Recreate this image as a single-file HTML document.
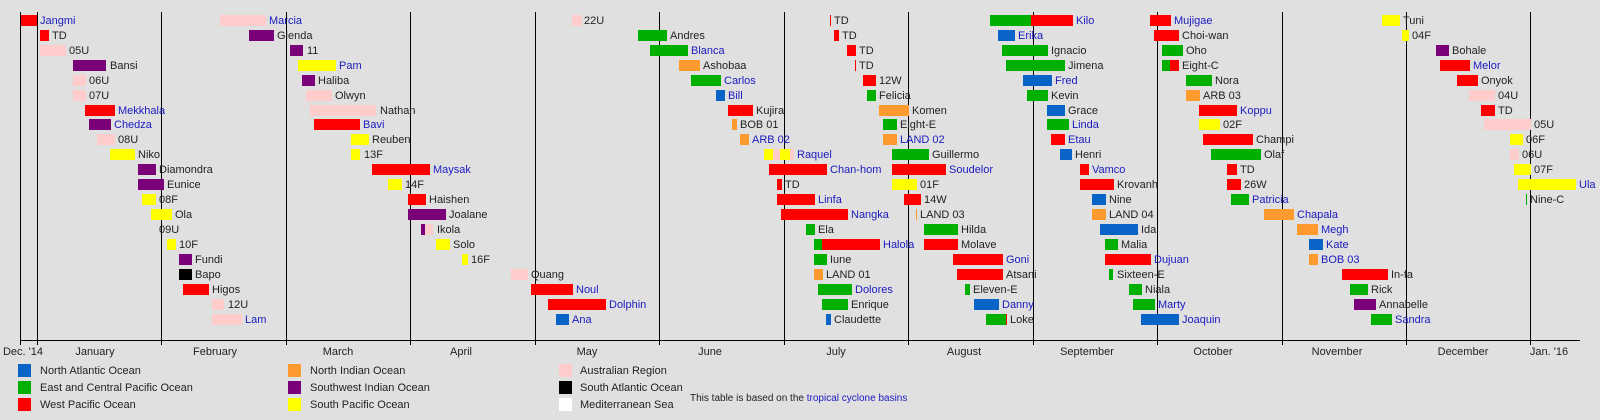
<!DOCTYPE html>
<html><head><meta charset="utf-8"><style>
body{margin:0;width:1600px;height:420px;background:#e0e0e0;position:relative;overflow:hidden;font-family:"Liberation Sans",Arial,sans-serif;font-size:11px;color:#222}
.v{position:absolute;top:12px;height:333px;width:1px;background:#000}
.ax{position:absolute;left:20px;top:340px;width:1560px;height:1px;background:#000}
.r{position:absolute;left:0;width:1600px;height:14px}
.r i{position:absolute;top:1px;height:11px;display:block}
.r b{position:absolute;top:0;font-weight:normal;line-height:14px;white-space:nowrap;color:#222}
.r b.u,.u{color:#1a1ac0}
.R{background:#ff0000}.G{background:#00b000}.B{background:#0a64c8}.O{background:#ff9a2e}.P{background:#7a007a}.Y{background:#ffff00}.K{background:#ffcccc}.X{background:#000}.W{background:#fff}
.m{position:absolute;top:345px;line-height:14px;transform:translateX(-50%);white-space:nowrap}
.lg{position:absolute;width:13px;height:13px}
.lt{position:absolute;line-height:14px;white-space:nowrap}
</style></head><body>
<div class="v" style="left:20px"></div>
<div class="v" style="left:37px"></div><div class="v" style="left:161px"></div><div class="v" style="left:286px"></div><div class="v" style="left:410px"></div><div class="v" style="left:535px"></div><div class="v" style="left:659px"></div><div class="v" style="left:784px"></div><div class="v" style="left:908px"></div><div class="v" style="left:1033px"></div><div class="v" style="left:1157px"></div><div class="v" style="left:1282px"></div><div class="v" style="left:1406px"></div><div class="v" style="left:1530px"></div>
<div class="ax"></div>

<div class="r" style="top:14px"><i class="R" style="left:21px;width:16px"></i><b class="u" style="left:40px">Jangmi</b><i class="K" style="left:220px;width:46px"></i><b class="u" style="left:269px">Marcia</b><i class="K" style="left:572px;width:10px"></i><b style="left:584px">22U</b><i class="R" style="left:830px;width:1px"></i><b style="left:834px">TD</b><i class="G" style="left:990px;width:41px"></i><i class="R" style="left:1031px;width:42px"></i><b class="u" style="left:1076px">Kilo</b><i class="R" style="left:1150px;width:21px"></i><b class="u" style="left:1174px">Mujigae</b><i class="Y" style="left:1382px;width:18px"></i><b style="left:1403px">Tuni</b></div>
<div class="r" style="top:29px"><i class="R" style="left:40px;width:9px"></i><b style="left:52px">TD</b><i class="P" style="left:249px;width:25px"></i><b style="left:277px">Glenda</b><i class="G" style="left:638px;width:29px"></i><b style="left:670px">Andres</b><i class="R" style="left:834px;width:5px"></i><b style="left:842px">TD</b><i class="B" style="left:998px;width:17px"></i><b class="u" style="left:1018px">Erika</b><i class="R" style="left:1154px;width:25px"></i><b style="left:1182px">Choi-wan</b><i class="Y" style="left:1402px;width:7px"></i><b style="left:1412px">04F</b></div>
<div class="r" style="top:44px"><i class="K" style="left:40px;width:26px"></i><b style="left:69px">05U</b><i class="P" style="left:290px;width:13px"></i><b style="left:307px">11</b><i class="G" style="left:650px;width:38px"></i><b class="u" style="left:691px">Blanca</b><i class="R" style="left:847px;width:9px"></i><b style="left:859px">TD</b><i class="G" style="left:1002px;width:46px"></i><b style="left:1051px">Ignacio</b><i class="G" style="left:1162px;width:21px"></i><b style="left:1186px">Oho</b><i class="P" style="left:1436px;width:13px"></i><b style="left:1452px">Bohale</b></div>
<div class="r" style="top:59px"><i class="P" style="left:73px;width:33px"></i><b style="left:110px">Bansi</b><i class="Y" style="left:298px;width:38px"></i><b class="u" style="left:339px">Pam</b><i class="O" style="left:679px;width:21px"></i><b style="left:703px">Ashobaa</b><i class="R" style="left:855px;width:1px"></i><b style="left:859px">TD</b><i class="G" style="left:1006px;width:59px"></i><b style="left:1068px">Jimena</b><i class="G" style="left:1162px;width:8px"></i><i class="R" style="left:1170px;width:9px"></i><b style="left:1182px">Eight-C</b><i class="R" style="left:1440px;width:30px"></i><b class="u" style="left:1473px">Melor</b></div>
<div class="r" style="top:74px"><i class="K" style="left:73px;width:13px"></i><b style="left:89px">06U</b><i class="P" style="left:302px;width:13px"></i><b style="left:318px">Haliba</b><i class="G" style="left:691px;width:30px"></i><b class="u" style="left:724px">Carlos</b><i class="R" style="left:863px;width:13px"></i><b style="left:879px">12W</b><i class="B" style="left:1023px;width:29px"></i><b class="u" style="left:1055px">Fred</b><i class="G" style="left:1186px;width:26px"></i><b style="left:1215px">Nora</b><i class="R" style="left:1457px;width:21px"></i><b style="left:1481px">Onyok</b></div>
<div class="r" style="top:89px"><i class="K" style="left:73px;width:13px"></i><b style="left:89px">07U</b><i class="K" style="left:306px;width:26px"></i><b style="left:335px">Olwyn</b><i class="B" style="left:716px;width:9px"></i><b class="u" style="left:728px">Bill</b><i class="G" style="left:867px;width:9px"></i><b style="left:879px">Felicia</b><i class="G" style="left:1027px;width:21px"></i><b style="left:1051px">Kevin</b><i class="O" style="left:1186px;width:14px"></i><b style="left:1203px">ARB 03</b><i class="K" style="left:1469px;width:26px"></i><b style="left:1498px">04U</b></div>
<div class="r" style="top:104px"><i class="R" style="left:85px;width:30px"></i><b class="u" style="left:118px">Mekkhala</b><i class="K" style="left:310px;width:66px"></i><b style="left:380px">Nathan</b><i class="R" style="left:728px;width:25px"></i><b style="left:756px">Kujira</b><i class="O" style="left:879px;width:30px"></i><b style="left:912px">Komen</b><i class="B" style="left:1047px;width:18px"></i><b style="left:1068px">Grace</b><i class="R" style="left:1199px;width:38px"></i><b class="u" style="left:1240px">Koppu</b><i class="R" style="left:1481px;width:14px"></i><b style="left:1498px">TD</b></div>
<div class="r" style="top:118px"><i class="P" style="left:89px;width:22px"></i><b class="u" style="left:114px">Chedza</b><i class="R" style="left:314px;width:46px"></i><b class="u" style="left:363px">Bavi</b><i class="O" style="left:732px;width:5px"></i><b style="left:740px">BOB 01</b><i class="G" style="left:883px;width:14px"></i><b style="left:900px">Eight-E</b><i class="G" style="left:1047px;width:22px"></i><b class="u" style="left:1072px">Linda</b><i class="Y" style="left:1199px;width:21px"></i><b style="left:1223px">02F</b><i class="K" style="left:1484px;width:47px"></i><b style="left:1534px">05U</b></div>
<div class="r" style="top:133px"><i class="K" style="left:97px;width:18px"></i><b style="left:118px">08U</b><i class="Y" style="left:351px;width:18px"></i><b style="left:372px">Reuben</b><i class="O" style="left:740px;width:9px"></i><b class="u" style="left:752px">ARB 02</b><i class="O" style="left:883px;width:14px"></i><b class="u" style="left:900px">LAND 02</b><i class="R" style="left:1051px;width:14px"></i><b class="u" style="left:1068px">Etau</b><i class="R" style="left:1203px;width:50px"></i><b style="left:1256px">Champi</b><i class="Y" style="left:1510px;width:13px"></i><b style="left:1526px">06F</b></div>
<div class="r" style="top:148px"><i class="Y" style="left:110px;width:25px"></i><b style="left:138px">Niko</b><i class="Y" style="left:351px;width:9px"></i><b style="left:364px">13F</b><i class="Y" style="left:764px;width:9px"></i><i class="K" style="left:773px;width:7px"></i><i class="Y" style="left:780px;width:10px"></i><i class="K" style="left:790px;width:4px"></i><b class="u" style="left:797px">Raquel</b><i class="G" style="left:892px;width:37px"></i><b style="left:932px">Guillermo</b><i class="B" style="left:1060px;width:12px"></i><b style="left:1075px">Henri</b><i class="G" style="left:1211px;width:50px"></i><b style="left:1264px">Olaf</b><i class="K" style="left:1510px;width:9px"></i><b style="left:1522px">06U</b></div>
<div class="r" style="top:163px"><i class="P" style="left:138px;width:18px"></i><b style="left:159px">Diamondra</b><i class="R" style="left:372px;width:58px"></i><b class="u" style="left:433px">Maysak</b><i class="R" style="left:769px;width:58px"></i><b class="u" style="left:830px">Chan-hom</b><i class="R" style="left:892px;width:54px"></i><b class="u" style="left:949px">Soudelor</b><i class="R" style="left:1080px;width:9px"></i><b class="u" style="left:1092px">Vamco</b><i class="R" style="left:1227px;width:10px"></i><b style="left:1240px">TD</b><i class="Y" style="left:1514px;width:17px"></i><b style="left:1534px">07F</b></div>
<div class="r" style="top:178px"><i class="P" style="left:138px;width:26px"></i><b style="left:167px">Eunice</b><i class="Y" style="left:388px;width:14px"></i><b style="left:405px">14F</b><i class="R" style="left:777px;width:5px"></i><b style="left:785px">TD</b><i class="Y" style="left:892px;width:25px"></i><b style="left:920px">01F</b><i class="R" style="left:1080px;width:34px"></i><b style="left:1117px">Krovanh</b><i class="R" style="left:1227px;width:14px"></i><b style="left:1244px">26W</b><i class="Y" style="left:1518px;width:58px"></i><b class="u" style="left:1579px">Ula</b></div>
<div class="r" style="top:193px"><i class="Y" style="left:142px;width:14px"></i><b style="left:159px">08F</b><i class="R" style="left:408px;width:18px"></i><b style="left:429px">Haishen</b><i class="R" style="left:777px;width:38px"></i><b class="u" style="left:818px">Linfa</b><i class="R" style="left:904px;width:17px"></i><b style="left:924px">14W</b><i class="B" style="left:1092px;width:14px"></i><b style="left:1109px">Nine</b><i class="G" style="left:1231px;width:18px"></i><b class="u" style="left:1252px">Patricia</b><i class="G" style="left:1526px;width:1px"></i><b style="left:1530px">Nine-C</b></div>
<div class="r" style="top:208px"><i class="Y" style="left:151px;width:21px"></i><b style="left:175px">Ola</b><i class="P" style="left:408px;width:38px"></i><b style="left:449px">Joalane</b><i class="R" style="left:781px;width:67px"></i><b class="u" style="left:851px">Nangka</b><i class="O" style="left:916px;width:1px"></i><b style="left:920px">LAND 03</b><i class="O" style="left:1092px;width:14px"></i><b style="left:1109px">LAND 04</b><i class="O" style="left:1264px;width:30px"></i><b class="u" style="left:1297px">Chapala</b></div>
<div class="r" style="top:223px"><b style="left:159px">09U</b><i class="P" style="left:421px;width:4px"></i><i class="K" style="left:425px;width:8px"></i><b style="left:437px">Ikola</b><i class="G" style="left:806px;width:9px"></i><b style="left:818px">Ela</b><i class="G" style="left:924px;width:34px"></i><b style="left:961px">Hilda</b><i class="B" style="left:1100px;width:38px"></i><b style="left:1141px">Ida</b><i class="O" style="left:1297px;width:21px"></i><b class="u" style="left:1321px">Megh</b></div>
<div class="r" style="top:238px"><i class="Y" style="left:167px;width:9px"></i><b style="left:179px">10F</b><i class="Y" style="left:436px;width:14px"></i><b style="left:453px">Solo</b><i class="G" style="left:814px;width:8px"></i><i class="R" style="left:822px;width:58px"></i><b class="u" style="left:883px">Halola</b><i class="R" style="left:924px;width:34px"></i><b style="left:961px">Molave</b><i class="G" style="left:1105px;width:13px"></i><b style="left:1121px">Malia</b><i class="B" style="left:1309px;width:14px"></i><b class="u" style="left:1326px">Kate</b></div>
<div class="r" style="top:253px"><i class="P" style="left:179px;width:13px"></i><b style="left:195px">Fundi</b><i class="Y" style="left:462px;width:6px"></i><b style="left:471px">16F</b><i class="G" style="left:814px;width:13px"></i><b style="left:830px">Iune</b><i class="R" style="left:953px;width:50px"></i><b class="u" style="left:1006px">Goni</b><i class="R" style="left:1105px;width:46px"></i><b class="u" style="left:1154px">Dujuan</b><i class="O" style="left:1309px;width:9px"></i><b class="u" style="left:1321px">BOB 03</b></div>
<div class="r" style="top:268px"><i class="X" style="left:179px;width:13px"></i><b style="left:195px">Bapo</b><i class="K" style="left:511px;width:17px"></i><b style="left:531px">Quang</b><i class="O" style="left:814px;width:9px"></i><b style="left:826px">LAND 01</b><i class="R" style="left:957px;width:46px"></i><b style="left:1006px">Atsani</b><i class="G" style="left:1109px;width:4px"></i><b style="left:1117px">Sixteen-E</b><i class="R" style="left:1342px;width:46px"></i><b style="left:1391px">In-fa</b></div>
<div class="r" style="top:283px"><i class="R" style="left:183px;width:26px"></i><b style="left:212px">Higos</b><i class="R" style="left:531px;width:42px"></i><b class="u" style="left:576px">Noul</b><i class="G" style="left:818px;width:34px"></i><b class="u" style="left:855px">Dolores</b><i class="G" style="left:965px;width:5px"></i><b style="left:973px">Eleven-E</b><i class="G" style="left:1129px;width:13px"></i><b style="left:1145px">Niala</b><i class="G" style="left:1350px;width:18px"></i><b style="left:1371px">Rick</b></div>
<div class="r" style="top:298px"><i class="K" style="left:212px;width:12px"></i><b style="left:228px">12U</b><i class="R" style="left:548px;width:58px"></i><b class="u" style="left:609px">Dolphin</b><i class="G" style="left:822px;width:26px"></i><b style="left:851px">Enrique</b><i class="B" style="left:974px;width:25px"></i><b class="u" style="left:1002px">Danny</b><i class="G" style="left:1133px;width:22px"></i><b class="u" style="left:1158px">Marty</b><i class="P" style="left:1354px;width:22px"></i><b style="left:1379px">Annabelle</b></div>
<div class="r" style="top:313px"><i class="K" style="left:212px;width:30px"></i><b class="u" style="left:245px">Lam</b><i class="B" style="left:556px;width:13px"></i><b class="u" style="left:572px">Ana</b><i class="B" style="left:826px;width:5px"></i><b style="left:834px">Claudette</b><i class="G" style="left:986px;width:20px"></i><i class="R" style="left:1006px;width:1px"></i><b style="left:1010px">Loke</b><i class="B" style="left:1141px;width:38px"></i><b class="u" style="left:1182px">Joaquin</b><i class="G" style="left:1371px;width:21px"></i><b class="u" style="left:1395px">Sandra</b></div>

<div class="m" style="left:23px">Dec. '14</div><div class="m" style="left:95px">January</div><div class="m" style="left:215px">February</div><div class="m" style="left:338px">March</div><div class="m" style="left:461px">April</div><div class="m" style="left:587px">May</div><div class="m" style="left:710px">June</div><div class="m" style="left:836px">July</div><div class="m" style="left:964px">August</div><div class="m" style="left:1087px">September</div><div class="m" style="left:1213px">October</div><div class="m" style="left:1337px">November</div><div class="m" style="left:1463px">December</div><div class="m" style="left:1549px">Jan. '16</div>

<div class="lg B" style="left:18px;top:364px"></div><div class="lt" style="left:40px;top:364px">North Atlantic Ocean</div>
<div class="lg G" style="left:18px;top:381px"></div><div class="lt" style="left:40px;top:381px">East and Central Pacific Ocean</div>
<div class="lg R" style="left:18px;top:398px"></div><div class="lt" style="left:40px;top:398px">West Pacific Ocean</div>
<div class="lg O" style="left:288px;top:364px"></div><div class="lt" style="left:310px;top:364px">North Indian Ocean</div>
<div class="lg P" style="left:288px;top:381px"></div><div class="lt" style="left:310px;top:381px">Southwest Indian Ocean</div>
<div class="lg Y" style="left:288px;top:398px"></div><div class="lt" style="left:310px;top:398px">South Pacific Ocean</div>
<div class="lg K" style="left:559px;top:364px"></div><div class="lt" style="left:580px;top:364px">Australian Region</div>
<div class="lg X" style="left:559px;top:381px"></div><div class="lt" style="left:580px;top:381px">South Atlantic Ocean</div>
<div class="lg W" style="left:559px;top:398px"></div><div class="lt" style="left:580px;top:398px">Mediterranean Sea</div>
<div class="lt" style="left:690px;top:392px;font-size:10px">This table is based on the <span class="u">tropical cyclone basins</span></div>
</body></html>
